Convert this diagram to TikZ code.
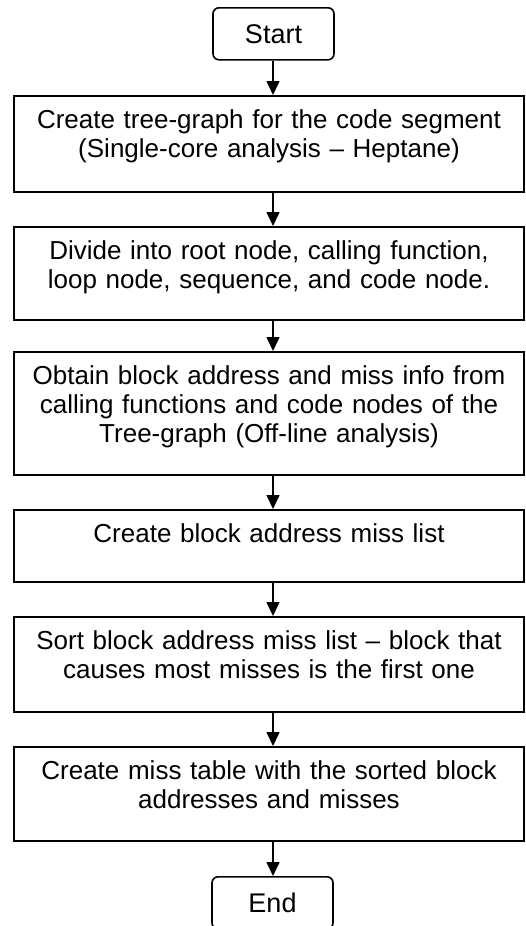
\documentclass[tikz,border=0pt]{standalone}
\usepackage{fontspec}
\setmainfont{Liberation Sans}
\usetikzlibrary{arrows.meta}

\begin{document}
\begin{tikzpicture}[x=1pt,y=-1pt,
  stepbox/.style={draw,line width=1.6pt,anchor=north,minimum width=510pt,text width=500pt,
    align=center,inner xsep=5pt,inner ysep=0pt,text height=33pt,font=\fontsize{26}{29}\selectfont},
  term/.style={draw,line width=1.6pt,rounded corners=6pt,anchor=north,minimum width=121pt,
    minimum height=52pt,font=\fontsize{27}{30}\selectfont},
  flow/.style={line width=1.6pt,-{Triangle[length=14pt,width=13pt]}}]
\useasboundingbox (0,0) rectangle (525,926);
\coordinate (axis) at (273,0);
% start and end
\node[term] (start) at (273.5,7) {Start};
\node[term] (end) at (272.5,876) {End};
% steps
\node[stepbox,text depth=63pt] (s1) at (269,95) {Create tree-graph for the code segment\\(Single-core analysis -- Heptane)};
\node[stepbox,text depth=60pt] (s2) at (269,226) {Divide into root node, calling function,\\loop node, sequence, and code node.};
\node[stepbox,text depth=90pt] (s3) at (269,351) {Obtain block address and miss info from\\calling functions and code nodes of the\\Tree-graph (Off-line analysis)};
\node[stepbox,text depth=39pt] (s4) at (269,509) {Create block address miss list};
\node[stepbox,text depth=62pt] (s5) at (269,616) {Sort block address miss list -- block that\\causes most misses is the first one};
\node[stepbox,text depth=61pt] (s6) at (269,746) {Create miss table with the sorted block\\addresses and misses};
% arrows
\draw[flow] (axis |- start.south) -- (axis |- s1.north);
\draw[flow] (axis |- s1.south) -- (axis |- s2.north);
\draw[flow] (axis |- s2.south) -- (axis |- s3.north);
\draw[flow] (axis |- s3.south) -- (axis |- s4.north);
\draw[flow] (axis |- s4.south) -- (axis |- s5.north);
\draw[flow] (axis |- s5.south) -- (axis |- s6.north);
\draw[flow] (axis |- s6.south) -- (axis |- end.north);
\end{tikzpicture}
\end{document}
